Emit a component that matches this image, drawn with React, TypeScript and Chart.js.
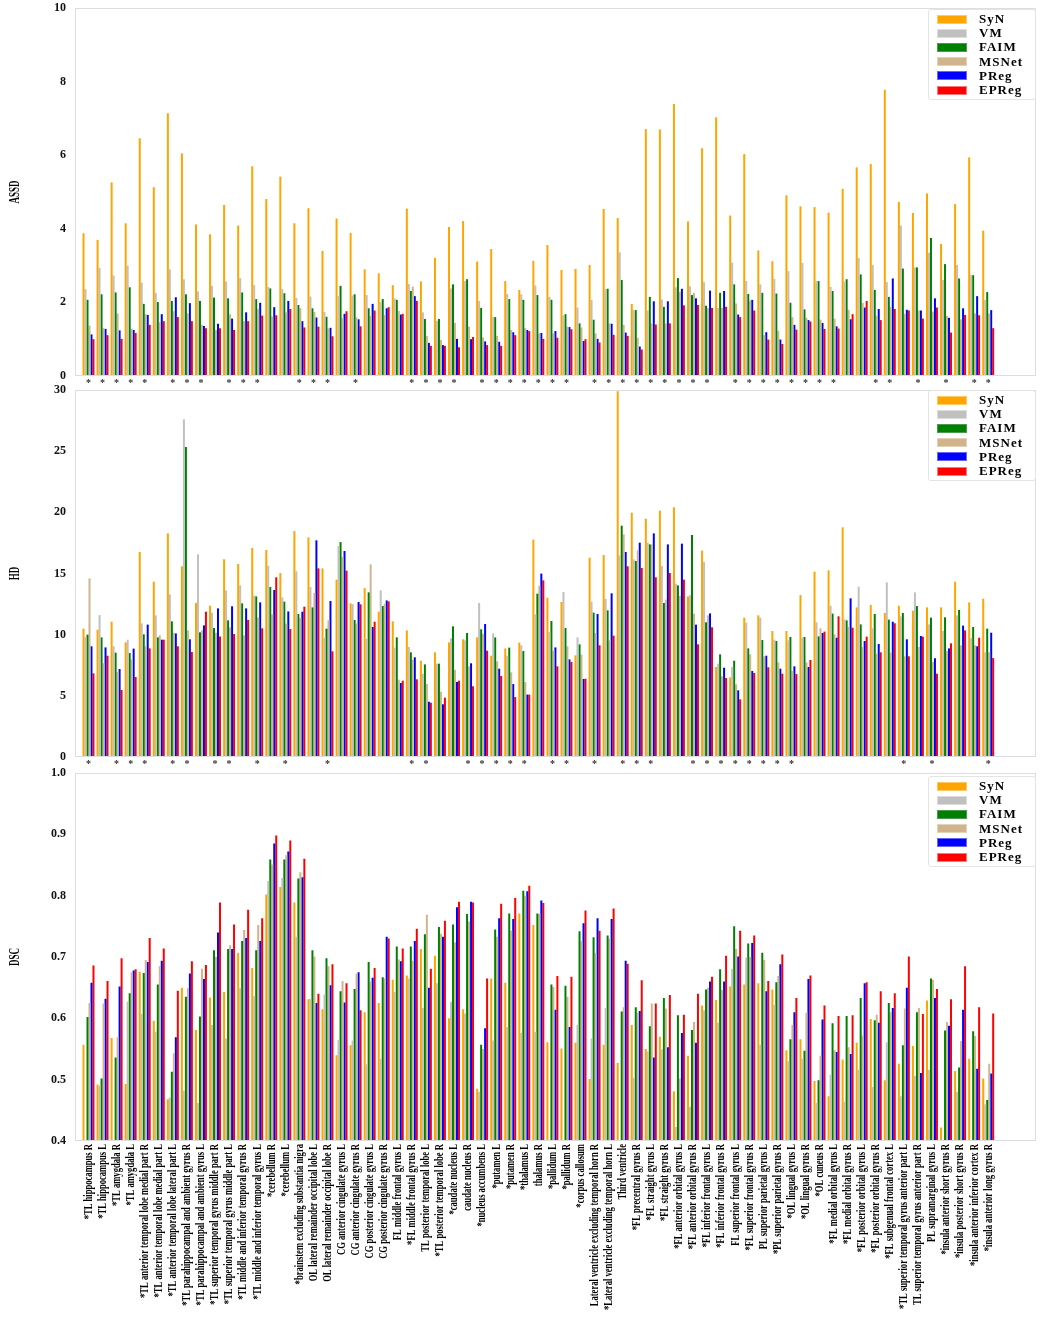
import React, { useEffect, useRef } from 'react';
import { Chart, registerables } from 'chart.js';
import type { Plugin } from 'chart.js';

Chart.register(...registerables);

const regionLabels = [
  '*TL hippocampus R', '*TL hippocampus L', '*TL amygdala R', '*TL amygdala L',
  '*TL anterior temporal lobe medial part R', '*TL anterior temporal lobe medial part L',
  '*TL anterior temporal lobe lateral part L', '*TL parahippocampal and ambient gyrus R',
  '*TL parahippocampal and ambient gyrus L', '*TL superior temporal gyrus middle part R',
  '*TL superior temporal gyrus middle part L', '*TL middle and inferior temporal gyrus R',
  '*TL middle and inferior temporal gyrus L', '*cerebellum R', '*cerebellum L',
  '*brainstem excluding substantia nigra', 'OL lateral remainder occipital lobe L',
  'OL lateral remainder occipital lobe R', 'CG anterior cingulate gyrus L', 'CG anterior cingulate gyrus R',
  'CG posterior cingulate gyrus L', 'CG posterior cingulate gyrus R', 'FL middle frontal gyrus L',
  '*FL middle frontal gyrus R', 'TL posterior temporal lobe L', '*TL posterior temporal lobe R',
  '*caudate nucleus L', 'caudate nucleus R', '*nucleus accumbens L', '*putamen L', '*putamen R',
  '*thalamus L', 'thalamus R', '*pallidum L', '*pallidum R', '*corpus callosum',
  'Lateral ventricle excluding temporal horn R', '*Lateral ventricle excluding temporal horn L',
  'Third ventricle', '*FL precentral gyrus R', '*FL straight gyrus L', '*FL straight gyrus R',
  '*FL anterior orbital gyrus L', '*FL anterior orbital gyrus R', '*FL inferior frontal gyrus L',
  '*FL inferior frontal gyrus R', 'FL superior frontal gyrus L', '*FL superior frontal gyrus R',
  'PL superior parietal gyrus L', '*PL superior parietal gyrus R', '*OL lingual gyrus L',
  '*OL lingual gyrus R', '*OL cuneus R', '*FL medial orbital gyrus L', '*FL medial orbital gyrus R',
  '*FL posterior orbital gyrus L', '*FL posterior orbital gyrus R', '*FL subgenual frontal cortex L',
  '*TL superior temporal gyrus anterior part L', 'TL superior temporal gyrus anterior part R',
  'PL supramarginal gyrus L', '*insula anterior short gyrus R', '*insula posterior short gyrus R',
  '*insula anterior inferior cortex R', '*insula anterior long gyrus R',
];

const methods = ['SyN', 'VM', 'FAIM', 'MSNet', 'PReg', 'EPReg'];
const methodColors = ['#ffa500', '#c0c0c0', '#008000', '#d2b48c', '#0000ff', '#ff0000'];
const methodEdges = ['#ffc966', '#dcdcdc', '#4d994d', '#e4d2bb', '#6666ff', '#ff7777'];

// ASSD
const assdSyN = [3.88, 3.70, 5.26, 4.15, 6.46, 5.13, 7.14, 6.05, 4.12, 3.85, 4.65, 4.09, 5.70, 4.81, 5.42, 4.15, 4.56, 3.40, 4.28, 3.89, 2.90, 2.79, 2.47, 4.55, 2.57, 3.21, 4.05, 4.21, 3.11, 3.45, 2.58, 2.34, 3.13, 3.56, 2.88, 2.91, 3.02, 4.54, 4.29, 1.96, 6.71, 6.70, 7.39, 4.20, 6.19, 7.03, 4.36, 6.03, 3.41, 3.12, 4.91, 4.61, 4.59, 4.44, 5.09, 5.67, 5.76, 7.78, 4.73, 4.43, 4.96, 3.59, 4.67, 5.94, 3.95];
const assdVM = [2.36, 2.94, 2.73, 3.00, 2.54, 2.26, 2.90, 2.63, 2.30, 2.45, 2.57, 2.66, 2.47, 2.42, 2.36, 2.12, 2.16, 1.74, 2.17, 2.19, 2.20, 2.01, 2.11, 2.50, 1.73, 1.50, 2.38, 2.58, 2.04, 1.60, 2.23, 2.22, 2.46, 2.15, 1.65, 1.86, 2.07, 2.36, 3.36, 1.80, 1.78, 2.08, 2.41, 2.44, 2.55, 1.85, 3.08, 2.58, 2.49, 2.64, 2.85, 3.07, 2.58, 2.42, 2.57, 3.21, 3.02, 2.55, 4.09, 2.95, 3.35, 2.61, 3.02, 2.74, 2.07];
const assdFAIM = [2.07, 2.22, 2.27, 2.41, 1.96, 2.01, 2.04, 2.22, 2.04, 2.13, 2.11, 2.27, 2.09, 2.38, 2.25, 1.93, 1.84, 1.61, 2.45, 2.22, 1.84, 2.09, 2.07, 2.31, 1.55, 1.55, 2.49, 2.63, 1.85, 1.60, 2.09, 2.07, 2.20, 2.07, 1.68, 1.43, 1.53, 2.37, 2.61, 1.79, 2.15, 1.88, 2.66, 2.20, 1.91, 2.26, 2.49, 2.23, 2.26, 2.24, 1.99, 1.81, 2.58, 2.31, 2.63, 2.76, 2.34, 2.15, 2.92, 2.95, 3.75, 3.04, 2.65, 2.74, 2.28];
const assdMSNet = [1.37, 1.30, 1.70, 1.29, 1.68, 1.46, 1.76, 1.70, 1.39, 1.25, 1.68, 1.49, 1.82, 1.62, 1.73, 1.84, 1.74, 1.29, 1.57, 1.59, 1.63, 1.66, 1.77, 2.43, 1.09, 0.98, 1.45, 1.34, 1.05, 1.09, 1.25, 1.30, 1.16, 1.16, 1.34, 1.32, 1.16, 1.43, 1.39, 1.04, 1.43, 1.43, 2.29, 2.26, 1.84, 1.85, 1.97, 2.05, 1.11, 1.23, 1.60, 1.58, 1.53, 1.56, 1.80, 1.99, 1.64, 1.88, 1.69, 1.78, 1.75, 1.63, 1.54, 1.70, 1.70];
const assdPReg = [1.13, 1.28, 1.24, 1.25, 1.66, 1.68, 2.14, 1.98, 1.36, 1.42, 1.56, 1.73, 1.99, 1.87, 2.04, 1.49, 1.59, 1.31, 1.69, 1.54, 1.96, 1.84, 1.67, 2.17, 0.90, 0.84, 1.01, 1.00, 0.94, 0.93, 1.19, 1.25, 1.17, 1.22, 1.33, 0.95, 1.01, 1.42, 1.18, 0.80, 2.03, 2.03, 2.37, 2.11, 2.32, 2.31, 1.67, 2.07, 1.19, 0.99, 1.39, 1.52, 1.44, 1.35, 1.54, 1.86, 1.82, 2.65, 1.80, 1.78, 2.11, 1.58, 1.84, 2.17, 1.79];
const assdEPReg = [1.00, 1.11, 1.01, 1.17, 1.39, 1.49, 1.60, 1.49, 1.30, 1.30, 1.25, 1.49, 1.64, 1.65, 1.82, 1.32, 1.34, 1.08, 1.76, 1.35, 1.78, 1.87, 1.69, 2.04, 0.82, 0.82, 0.78, 1.06, 0.84, 0.82, 1.11, 1.22, 1.01, 1.04, 1.27, 1.00, 0.91, 1.12, 1.09, 0.72, 1.40, 1.43, 1.92, 1.93, 1.85, 1.88, 1.60, 1.78, 0.99, 0.87, 1.26, 1.48, 1.28, 1.29, 1.68, 2.04, 1.52, 1.82, 1.78, 1.56, 1.86, 1.18, 1.66, 1.65, 1.30];
// regions marked with * under the ASSD panel (0-based)
const assdStars = [0, 1, 2, 3, 4, 6, 7, 8, 10, 11, 12, 15, 16, 17, 19, 23, 24, 25, 26, 28, 29, 30, 31, 32, 33, 34, 36, 37, 38, 39, 40, 41, 42, 43, 44, 46, 47, 48, 49, 50, 51, 52, 53, 56, 57, 59, 61, 63, 64];

// HD
const hdSyN = [10.5, 10.4, 11.06, 9.37, 16.76, 14.33, 18.28, 15.59, 12.6, 12.37, 16.16, 15.78, 17.08, 16.92, 15.04, 18.47, 17.96, 15.42, 14.5, 12.56, 13.81, 11.88, 11.09, 10.35, 7.87, 8.56, 9.37, 9.62, 9.78, 8.28, 8.88, 9.35, 17.77, 13.02, 12.67, 8.31, 16.29, 16.51, 29.9, 19.97, 19.48, 20.14, 20.41, 13.13, 16.87, 7.36, 6.51, 11.39, 11.58, 10.3, 10.3, 13.24, 15.15, 15.26, 18.77, 12.23, 12.43, 11.77, 12.37, 11.96, 12.23, 12.23, 14.33, 12.64, 12.94];
const hdVM = [9.8, 11.6, 9.05, 9.59, 10.93, 11.58, 13.3, 27.6, 16.57, 11.8, 13.62, 14.03, 13.2, 15.64, 13.05, 15.18, 13.9, 9.75, 17.25, 12.5, 9.65, 13.62, 8.94, 8.99, 6.81, 7.63, 9.7, 9.54, 12.59, 10.11, 8.28, 9.13, 11.66, 10.22, 13.49, 9.78, 12.7, 12.92, 16.48, 16.16, 17.52, 15.61, 14.17, 13.22, 15.94, 7.63, 7.36, 10.98, 11.39, 9.59, 9.54, 9.75, 11.01, 12.37, 11.25, 13.92, 10.52, 14.28, 11.5, 13.46, 10.84, 10.3, 11.58, 9.73, 8.56];
const hdFAIM = [10.0, 9.78, 8.53, 8.50, 10.03, 9.78, 11.09, 25.34, 10.19, 10.54, 11.17, 12.56, 13.13, 13.9, 12.7, 11.69, 12.23, 10.49, 17.57, 11.2, 13.46, 12.34, 9.78, 8.56, 7.57, 7.63, 10.68, 10.14, 10.44, 9.78, 8.94, 8.66, 13.35, 11.12, 10.54, 9.21, 11.8, 11.99, 18.91, 16.02, 17.38, 12.59, 14.03, 18.15, 11.01, 8.39, 7.87, 8.88, 9.56, 9.48, 9.81, 9.81, 9.86, 11.72, 11.17, 10.84, 11.69, 11.23, 11.77, 12.34, 11.39, 11.42, 12.02, 10.63, 10.49];
const hdMSNet = [14.6, 7.66, 6.95, 7.98, 9.05, 9.95, 10.16, 10.35, 10.35, 10.16, 10.6, 9.95, 11.39, 11.66, 10.9, 11.36, 13.41, 11.17, 16.35, 10.9, 15.75, 12.53, 6.32, 7.96, 5.97, 5.34, 7.14, 7.41, 10.08, 7.82, 6.92, 6.13, 14.0, 8.69, 9.05, 8.37, 10.14, 9.54, 18.2, 16.89, 17.38, 12.86, 13.16, 11.72, 11.58, 6.59, 5.94, 8.39, 8.23, 7.74, 7.03, 7.74, 10.52, 10.03, 10.63, 8.99, 8.45, 8.53, 8.23, 8.99, 7.77, 8.66, 9.13, 9.13, 8.56];
const hdPReg = [9.05, 8.96, 7.19, 8.86, 10.82, 9.59, 10.1, 9.62, 10.76, 12.15, 12.32, 12.15, 12.64, 13.65, 11.9, 11.88, 17.71, 12.75, 16.84, 12.67, 10.63, 12.8, 6.05, 8.15, 4.52, 4.31, 6.13, 7.66, 10.87, 7.22, 5.97, 5.1, 14.99, 8.96, 7.98, 6.38, 11.69, 13.38, 16.76, 17.52, 18.28, 17.38, 17.44, 10.82, 11.74, 7.3, 5.45, 7.03, 8.28, 7.22, 7.41, 7.36, 10.14, 9.75, 12.97, 9.48, 9.24, 11.06, 9.62, 9.89, 8.07, 8.88, 10.74, 9.05, 10.16];
const hdEPReg = [6.84, 8.28, 5.48, 6.54, 8.88, 9.59, 9.05, 8.58, 11.88, 9.86, 10.05, 11.2, 10.52, 14.69, 10.46, 12.29, 15.42, 8.64, 15.23, 12.48, 11.06, 12.72, 6.24, 6.35, 4.44, 4.85, 6.24, 5.78, 8.69, 6.62, 4.9, 5.1, 14.44, 7.41, 7.77, 6.4, 9.13, 9.92, 15.59, 15.45, 14.69, 15.04, 14.5, 9.21, 10.6, 6.46, 4.71, 6.87, 7.33, 6.81, 6.78, 7.93, 10.25, 11.5, 10.57, 9.84, 8.56, 10.93, 8.23, 9.84, 6.81, 9.29, 10.35, 9.75, 8.09];
const hdStars = [0, 2, 3, 4, 6, 7, 9, 10, 12, 14, 17, 23, 24, 27, 28, 29, 30, 31, 33, 34, 36, 38, 39, 40, 43, 44, 45, 46, 47, 48, 49, 50, 58, 60, 64];

// DSC
const dscSyN = [0.557, 0.492, 0.568, 0.493, 0.676, 0.596, 0.468, 0.650, 0.581, 0.634, 0.643, 0.707, 0.682, 0.802, 0.814, 0.789, 0.631, 0.615, 0.540, 0.556, 0.610, 0.625, 0.663, 0.670, 0.713, 0.702, 0.600, 0.615, 0.485, 0.665, 0.658, 0.771, 0.752, 0.561, 0.551, 0.560, 0.501, 0.557, 0.527, 0.589, 0.550, 0.570, 0.481, 0.539, 0.621, 0.630, 0.652, 0.655, 0.657, 0.647, 0.548, 0.566, 0.498, 0.473, 0.533, 0.560, 0.599, 0.499, 0.526, 0.555, 0.629, 0.422, 0.514, 0.534, 0.502];
const dscVM = [0.40, 0.49, 0.40, 0.627, 0.607, 0.578, 0.471, 0.482, 0.462, 0.589, 0.567, 0.649, 0.636, 0.824, 0.829, 0.733, 0.632, 0.639, 0.565, 0.564, 0.525, 0.534, 0.643, 0.665, 0.617, 0.657, 0.627, 0.608, 0.480, 0.564, 0.586, 0.576, 0.578, 0.40, 0.40, 0.589, 0.567, 0.617, 0.40, 0.503, 0.546, 0.549, 0.423, 0.456, 0.613, 0.593, 0.681, 0.699, 0.557, 0.622, 0.530, 0.534, 0.462, 0.508, 0.464, 0.516, 0.488, 0.561, 0.473, 0.506, 0.516, 0.40, 0.48, 0.40, 0.46];
const dscFAIM = [0.602, 0.502, 0.536, 0.641, 0.674, 0.655, 0.513, 0.635, 0.603, 0.711, 0.713, 0.726, 0.711, 0.859, 0.859, 0.828, 0.711, 0.698, 0.644, 0.648, 0.692, 0.667, 0.717, 0.717, 0.737, 0.749, 0.753, 0.770, 0.557, 0.745, 0.771, 0.808, 0.771, 0.655, 0.653, 0.742, 0.732, 0.735, 0.611, 0.618, 0.587, 0.633, 0.605, 0.581, 0.647, 0.680, 0.750, 0.722, 0.707, 0.659, 0.566, 0.547, 0.499, 0.592, 0.604, 0.633, 0.597, 0.625, 0.556, 0.610, 0.665, 0.580, 0.520, 0.579, 0.467];
const dscMSNet = [0.625, 0.624, 0.569, 0.675, 0.695, 0.685, 0.543, 0.649, 0.681, 0.700, 0.719, 0.744, 0.752, 0.851, 0.866, 0.838, 0.701, 0.685, 0.661, 0.673, 0.660, 0.665, 0.696, 0.694, 0.769, 0.738, 0.724, 0.758, 0.550, 0.733, 0.743, 0.800, 0.770, 0.651, 0.635, 0.726, 0.707, 0.730, 0.618, 0.609, 0.624, 0.616, 0.502, 0.594, 0.650, 0.646, 0.713, 0.700, 0.695, 0.669, 0.589, 0.609, 0.539, 0.548, 0.553, 0.572, 0.606, 0.610, 0.616, 0.617, 0.663, 0.594, 0.563, 0.571, 0.526];
const dscPReg = [0.658, 0.632, 0.652, 0.678, 0.692, 0.694, 0.569, 0.673, 0.664, 0.740, 0.713, 0.731, 0.726, 0.885, 0.872, 0.830, 0.625, 0.654, 0.626, 0.675, 0.666, 0.733, 0.693, 0.726, 0.650, 0.733, 0.781, 0.790, 0.584, 0.763, 0.762, 0.807, 0.792, 0.614, 0.586, 0.755, 0.763, 0.762, 0.694, 0.612, 0.536, 0.553, 0.576, 0.560, 0.660, 0.660, 0.701, 0.723, 0.644, 0.688, 0.610, 0.664, 0.598, 0.545, 0.542, 0.657, 0.593, 0.617, 0.650, 0.511, 0.633, 0.588, 0.614, 0.518, 0.510];
const dscEPReg = [0.686, 0.661, 0.698, 0.680, 0.731, 0.714, 0.645, 0.693, 0.687, 0.789, 0.753, 0.777, 0.763, 0.898, 0.890, 0.860, 0.640, 0.688, 0.657, 0.613, 0.682, 0.730, 0.714, 0.746, 0.681, 0.759, 0.790, 0.789, 0.665, 0.787, 0.796, 0.816, 0.788, 0.669, 0.668, 0.776, 0.743, 0.779, 0.689, 0.662, 0.624, 0.638, 0.606, 0.640, 0.668, 0.702, 0.743, 0.735, 0.661, 0.704, 0.633, 0.670, 0.621, 0.604, 0.605, 0.659, 0.644, 0.641, 0.701, 0.607, 0.648, 0.631, 0.685, 0.618, 0.608];

const SERIF = '"Liberation Serif", "Times New Roman", serif';
const CANVAS_W = 1043;

interface PanelProps {
  top: number;
  height: number;
  padTop: number;
  padBottom: number;
  xHeight: number;
  title: string;
  series: number[][];
  yMin: number;
  yMax: number;
  step: number;
  decimals: number;
  stars?: number[];
  longLabels?: boolean;
}

// frame, rotated axis title and (optionally) squeezed region names
function makeDecor(title: string, longLabels: boolean): Plugin<'bar'> {
  return {
    id: 'decor',
    afterDraw(chart) {
      const { ctx, chartArea } = chart;
      ctx.save();
      ctx.strokeStyle = '#dedede';
      ctx.lineWidth = 1;
      ctx.strokeRect(chartArea.left + 0.5, chartArea.top + 0.5, chartArea.right - chartArea.left - 1, chartArea.bottom - chartArea.top - 1);

      ctx.fillStyle = '#000';
      ctx.font = `bold 15px ${SERIF}`;
      ctx.textAlign = 'center';
      ctx.textBaseline = 'middle';
      ctx.translate(15, (chartArea.top + chartArea.bottom) / 2);
      ctx.rotate(-Math.PI / 2);
      ctx.scale(0.6, 1);
      ctx.fillText(title, 0, 0);
      ctx.restore();

      if (longLabels) {
        const xs = chart.scales.x;
        ctx.save();
        ctx.fillStyle = '#000';
        ctx.font = `bold 13px ${SERIF}`;
        ctx.textAlign = 'right';
        ctx.textBaseline = 'middle';
        regionLabels.forEach((label, i) => {
          ctx.save();
          ctx.translate(xs.getPixelForValue(i), chartArea.bottom + 3);
          ctx.rotate(-Math.PI / 2);
          ctx.scale(0.66, 1);
          ctx.fillText(label, 0, 0);
          ctx.restore();
        });
        ctx.restore();
      }
    },
  };
}

function Legend({ top }: { top: number }) {
  return (
    <div
      style={{
        position: 'absolute',
        left: 928,
        top,
        width: 98,
        padding: '2px 0 2px 8px',
        border: '1px solid #e4e4e4',
        borderRadius: 3,
        background: 'rgba(255,255,255,0.85)',
      }}
    >
      {methods.map((m, i) => (
        <div key={m} style={{ display: 'flex', alignItems: 'center', height: 14.2 }}>
          <span
            style={{
              display: 'inline-block',
              width: 28,
              height: 7,
              background: methodColors[i],
              border: `1px solid ${methodEdges[i]}`,
              marginRight: 12,
            }}
          />
          <span style={{ font: `bold 13px ${SERIF}`, letterSpacing: '1px', lineHeight: '14px', color: '#000' }}>{m}</span>
        </div>
      ))}
    </div>
  );
}

function BarPanel({ top, height, padTop, padBottom, xHeight, title, series, yMin, yMax, step, decimals, stars = [], longLabels = false }: PanelProps) {
  const canvasRef = useRef<HTMLCanvasElement>(null);

  useEffect(() => {
    if (!canvasRef.current) return;
    const chart = new Chart(canvasRef.current, {
      type: 'bar',
      data: {
        datasets: series.map((values, k) => ({
          label: methods[k],
          data: values.map((v, i) => ({ x: i, y: v })),
          backgroundColor: methodColors[k],
          borderWidth: 0,
          barPercentage: 1,
          categoryPercentage: 0.85,
        })),
      },
      options: {
        responsive: false,
        animation: false,
        layout: { padding: { left: 0, right: 7, top: padTop, bottom: padBottom } },
        plugins: { legend: { display: false }, tooltip: { enabled: false } },
        scales: {
          x: {
            type: 'linear',
            offset: false,
            min: -0.96,
            max: 67.4,
            afterBuildTicks: (scale) => {
              scale.ticks = regionLabels.map((_, i) => ({ value: i }));
            },
            afterFit: (scale) => {
              scale.height = xHeight;
            },
            grid: { display: false, drawTicks: false },
            border: { display: false },
            ticks: {
              display: !longLabels,
              autoSkip: false,
              maxRotation: 0,
              minRotation: 0,
              padding: 1,
              color: '#333',
              font: { family: SERIF, size: 10, weight: 'bold' },
              callback: (v) => (stars.includes(Number(v)) ? '*' : ''),
            },
          },
          y: {
            min: yMin,
            max: yMax,
            afterFit: (scale) => {
              scale.width = 75;
            },
            // tick marks hidden, their length only spaces the labels from the frame
            grid: { display: false, drawTicks: true, tickLength: 9 },
            border: { display: false },
            ticks: {
              stepSize: step,
              padding: 0,
              color: '#111',
              font: { family: SERIF, size: 12, weight: 'bold' },
              callback: (v) => Number(v).toFixed(decimals),
            },
          },
        },
      },
      plugins: [makeDecor(title, longLabels)],
    });
    return () => chart.destroy();
  }, []);

  return (
    <canvas
      ref={canvasRef}
      width={CANVAS_W}
      height={height}
      style={{ position: 'absolute', left: 0, top, width: CANVAS_W, height }}
    />
  );
}

export default function App() {
  useEffect(() => {
    document.body.style.margin = '0';
    document.body.style.background = '#fff';
  }, []);

  return (
    <div style={{ position: 'relative', width: CANVAS_W, height: 1339, overflow: 'hidden', background: '#fff' }}>
      <BarPanel
        top={0} height={392} padTop={8} padBottom={4} xHeight={12}
        title="ASSD" yMin={0} yMax={10} step={2} decimals={0}
        series={[assdSyN, assdVM, assdFAIM, assdMSNet, assdPReg, assdEPReg]}
        stars={assdStars}
      />
      <BarPanel
        top={380} height={392} padTop={10} padBottom={3} xHeight={12}
        title="HD" yMin={0} yMax={30} step={5} decimals={0}
        series={[hdSyN, hdVM, hdFAIM, hdMSNet, hdPReg, hdEPReg]}
        stars={hdStars}
      />
      <BarPanel
        top={763} height={576} padTop={10} padBottom={0} xHeight={198}
        title="DSC" yMin={0.4} yMax={1.0} step={0.1} decimals={1}
        series={[dscSyN, dscVM, dscFAIM, dscMSNet, dscPReg, dscEPReg]}
        longLabels
      />
      <Legend top={9} />
      <Legend top={390} />
      <Legend top={776} />
    </div>
  );
}
